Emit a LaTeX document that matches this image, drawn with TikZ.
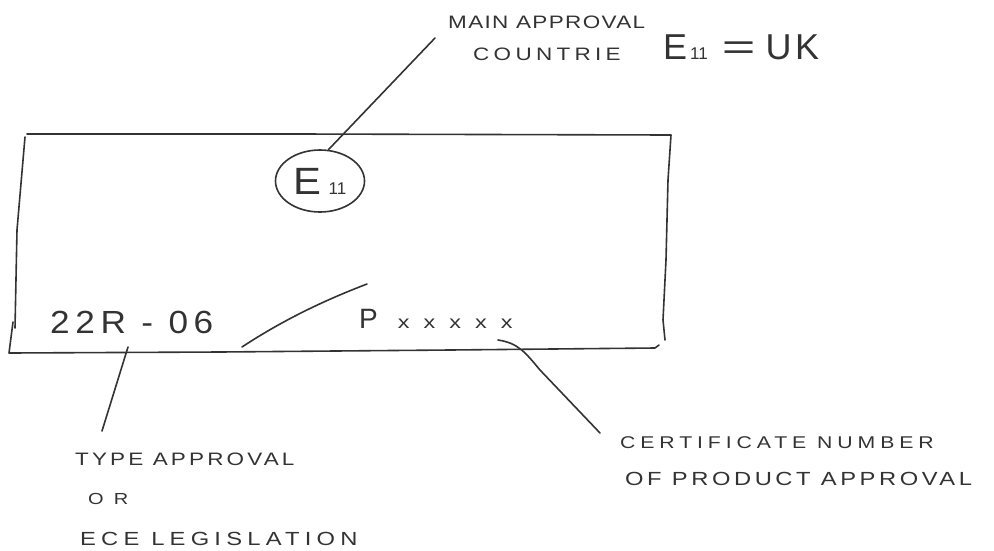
\documentclass[tikz,border=0pt]{standalone}
\usepackage{fontspec}
\setmainfont{Liberation Sans}
\usepackage{graphicx}
\usetikzlibrary{shapes.geometric}
% size, horizontal stretch, letter spacing, text
\newcommand{\handtxt}[4]{\scalebox{#2}[1]{\fontsize{#1}{#1}\selectfont\addfontfeature{LetterSpace=#3}#4}}
\tikzset{
    pen/.style={
        line width=1.6pt,
        black!80,
        line cap=round,
        line join=round
    },
    % hand lettered labels, placed on their baseline
    lbl/.style={
        anchor=base west,
        inner sep=0pt,
        text=black!80
    }
}

\begin{document}
\begin{tikzpicture}[x=1pt,y=-1pt]
   \useasboundingbox (0,0) rectangle (994,550);
   % the label sheet
   \draw[pen] (27,134) -- (300,134) -- (671,135) -- (668,180) -- (666,260) -- (663,320) -- (665,340);
   \draw[pen] (25,137) -- (17,230) -- (15,328);
   \draw[pen] (13,322) -- (9,353) -- (220,352) -- (450,350) -- (655,348) -- (659,345);
   \node[ellipse, draw, pen, minimum width=89pt, minimum height=62pt, inner sep=0pt] (mark) at (320,181)
        {\handtxt{38}{1.1}{0}{E}\kern7pt\handtxt{17}{1}{0}{11}};
   \node[lbl] (code) at (50,333) {\handtxt{32}{1.1}{16}{22R - 06}};
   \node[lbl] (pnum) at (359,328) {\handtxt{28}{1}{0}{P}\kern20pt\handtxt{18}{1.3}{60}{xxxxx}};
   % texts round it
   \node[lbl] (mainlbl) at (448,28) {\handtxt{18}{1.25}{6}{MAIN APPROVAL}};
   \node[lbl] (ctry) at (473,60) {\handtxt{18}{1.25}{19}{COUNTRIE}};
   \node[lbl] (uk) at (663,59) {\handtxt{36}{1}{0}{E}\kern3pt\handtxt{17}{1}{0}{11}\kern14pt\handtxt{36}{1.6}{0}{=}\kern10pt\handtxt{36}{1}{10}{UK}};
   \node[lbl] (typ) at (75,465) {\handtxt{18}{1.25}{14}{TYPE APPROVAL}};
   \node[lbl] (orlbl) at (88,504) {\handtxt{16}{1.25}{50}{OR}};
   \node[lbl] (ece) at (80,545) {\handtxt{19}{1.25}{22}{ECE LEGISLATION}};
   \node[lbl] (cert) at (620,448) {\handtxt{17}{1.25}{23}{CERTIFICATE NUMBER}};
   \node[lbl] (prod) at (625,485) {\handtxt{19}{1.25}{15}{OF PRODUCT APPROVAL}};
   % leader lines
   \coordinate (mainTip) at (435,38);
   \coordinate (codeTip) at (128,347);
   \coordinate (typTip) at (102,431);
   \coordinate (slashA) at (242,347);
   \coordinate (slashB) at (367,284);
   \coordinate (pTip) at (498,340);
   \coordinate (certTip) at (600,433);
   \draw[pen] (mainTip) -- (mark.75);
   \draw[pen] (codeTip) -- (typTip);
   \draw[pen] (slashA) .. controls (280,322) and (320,302) .. (slashB);
   \draw[pen] (pTip) .. controls (518,343) and (525,352) .. (540,370) -- (certTip);
\end{tikzpicture}
\end{document}
